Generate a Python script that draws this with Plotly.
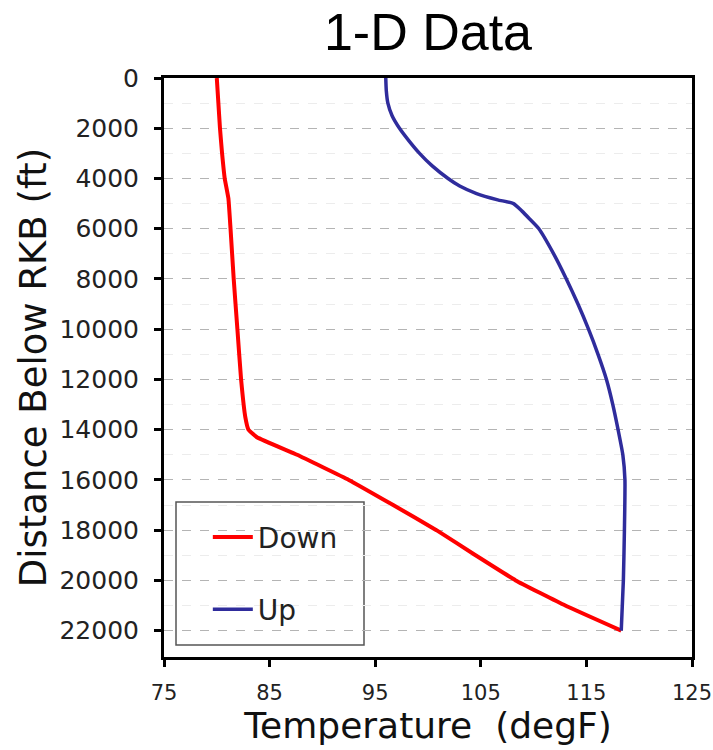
import plotly.graph_objects as go

# Data
down_depth = [0, 1000, 2000, 3000, 4000, 4800, 6000, 8000, 10000, 12000, 13500, 14000,
              14300, 15000, 16000, 17000, 18000, 19000, 20000, 21000, 22000]
down_temp = [80.0, 80.15, 80.3, 80.5, 80.75, 81.1, 81.3, 81.6, 81.95, 82.3, 82.7, 83.0,
             83.8, 87.6, 92.5, 96.7, 100.8, 104.5, 108.3, 113.0, 118.3]

up_depth = [0, 500, 1000, 1500, 2000, 2500, 3000, 3500, 4000, 4300, 4600, 4850, 5000,
            5300, 5600, 6000, 7000, 8000, 9000, 10000, 11000, 12000, 13000, 14000,
            15000, 16000, 18000, 20000, 22000]
up_temp = [96.0, 96.05, 96.2, 96.6, 97.3, 98.2, 99.2, 100.4, 101.9, 103.0, 104.6, 106.6,
           108.1, 108.9, 109.6, 110.5, 111.9, 113.1, 114.2, 115.2, 116.1, 116.9, 117.5,
           118.0, 118.45, 118.65, 118.6, 118.5, 118.3]

x_ticks = [75, 85, 95, 105, 115, 125]
y_ticks = list(range(0, 22001, 2000))

fig = go.Figure()
fig.add_trace(go.Scatter(x=down_temp, y=down_depth, mode="lines", name="Down",
                         legendgroup="a",
                         line=dict(color="#ff0000", width=4, shape="spline", smoothing=0.3)))
fig.add_trace(go.Scatter(x=up_temp, y=up_depth, mode="lines", name="Up",
                         legendgroup="b",
                         line=dict(color="#2f2c9c", width=3.5, shape="spline", smoothing=0.5)))

W, H = 713, 750
ml, mr, mt, mb = 164, 21, 78, 93

fig.update_layout(
    width=W, height=H,
    margin=dict(l=ml, r=mr, t=mt, b=mb, autoexpand=False),
    paper_bgcolor="white", plot_bgcolor="white",
    title=dict(text="1-D Data", x=0.5, xref="paper", xanchor="center",
               y=1 - 32 / H, yanchor="middle",
               font=dict(family="Liberation Sans, Arial", size=52, color="black")),
    showlegend=True,
    legend=dict(x=0.083, y=0.25, xanchor="left", yanchor="top",
                bgcolor="rgba(0,0,0,0)", borderwidth=0,
                font=dict(family="DejaVu Sans", size=28, color="#222"),
                traceorder="grouped", tracegroupgap=33, itemwidth=40),
    font=dict(family="DejaVu Sans", color="#222"),
)

fig.update_xaxes(
    range=[75, 125], tickvals=x_ticks, ticktext=[str(v) for v in x_ticks],
    showgrid=False, zeroline=False,
    showline=True, linecolor="black", linewidth=3, mirror=True,
    ticks="outside", ticklen=7, tickwidth=3, tickcolor="black",
    tickfont=dict(family="DejaVu Sans", size=21, color="#222"),
    ticklabelstandoff=8,
    title=dict(text="Temperature \u00a0(degF)\u00a0", standoff=8,
               font=dict(family="DejaVu Sans", size=36, color="#111")),
)
fig.update_yaxes(
    range=[23050, 0], tickvals=y_ticks, ticktext=[str(v) for v in y_ticks],
    showgrid=True, gridcolor="#b4b4b4", gridwidth=1, griddash="dash",
    minor=dict(tickvals=list(range(1000, 23000, 2000)), showgrid=True,
               gridcolor="#ececec", gridwidth=1, ticks=""),
    zeroline=False,
    showline=True, linecolor="black", linewidth=3, mirror=True,
    ticks="outside", ticklen=7, tickwidth=3, tickcolor="black",
    tickfont=dict(family="DejaVu Sans", size=25, color="#222"),
    ticklabelstandoff=10,
    title=dict(text="Distance Below RKB (ft)", standoff=2,
               font=dict(family="DejaVu Sans", size=37, color="#111")),
)

# Legend frame
fig.add_shape(type="rect", xref="paper", yref="paper",
              x0=(176 - ml) / (W - ml - mr), x1=(364 - ml) / (W - ml - mr),
              y0=1 - (645 - mt) / (H - mt - mb), y1=1 - (502 - mt) / (H - mt - mb),
              line=dict(color="#555555", width=1.5), fillcolor="white", layer="below")

fig.write_html("out.html")
